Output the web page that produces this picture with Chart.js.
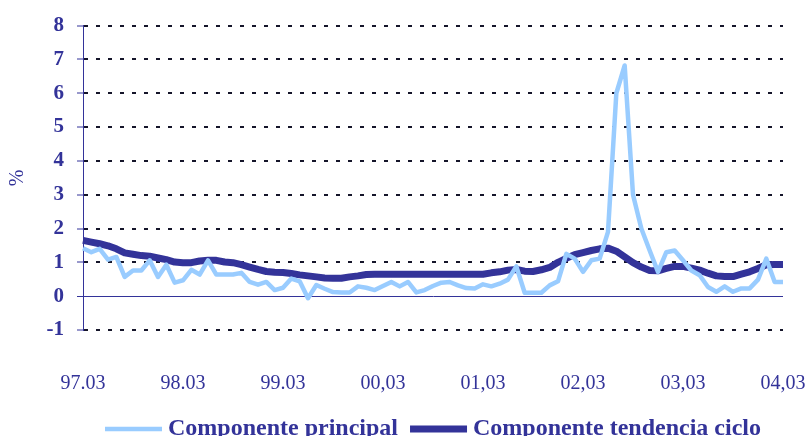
<!DOCTYPE html>
<html>
<head>
<meta charset="utf-8">
<script src="https://cdn.jsdelivr.net/npm/chart.js@4.4.1/dist/chart.umd.min.js"></script>
<style>
  html, body { margin: 0; padding: 0; background: #ffffff; overflow: hidden; }
  canvas { display: block; }
</style>
</head>
<body>
<canvas id="chart" width="809" height="436" style="width:809px;height:436px"></canvas>
<script>
// Monthly observations, March 1997 to March 2004
const months = [
  '97.03','97.04','97.05','97.06','97.07','97.08','97.09','97.10','97.11','97.12','98.01','98.02',
  '98.03','98.04','98.05','98.06','98.07','98.08','98.09','98.10','98.11','98.12','99.01','99.02',
  '99.03','99.04','99.05','99.06','99.07','99.08','99.09','99.10','99.11','99.12','00.01','00.02',
  '00.03','00.04','00.05','00.06','00.07','00.08','00.09','00.10','00.11','00.12','01.01','01.02',
  '01.03','01.04','01.05','01.06','01.07','01.08','01.09','01.10','01.11','01.12','02.01','02.02',
  '02.03','02.04','02.05','02.06','02.07','02.08','02.09','02.10','02.11','02.12','03.01','03.02',
  '03.03','03.04','03.05','03.06','03.07','03.08','03.09','03.10','03.11','03.12','04.01','04.02',
  '04.03'
];

// Axis labels shown once a year (every 12th month)
const tickLabels = ['97.03', '98.03', '99.03', '00,03', '01,03', '02,03', '03,03', '04,03'];

// Componente principal (%)
const principal = [
  1.42, 1.30, 1.40, 1.08, 1.16, 0.57, 0.76, 0.76, 1.06, 0.57, 0.93, 0.40,
  0.47, 0.78, 0.64, 1.06, 0.64, 0.64, 0.64, 0.69, 0.42, 0.34, 0.42, 0.18,
  0.25, 0.52, 0.44, -0.06, 0.33, 0.22, 0.12, 0.11, 0.11, 0.29, 0.25, 0.18,
  0.30, 0.42, 0.29, 0.42, 0.11, 0.18, 0.30, 0.40, 0.42, 0.32, 0.24, 0.23,
  0.35, 0.29, 0.37, 0.49, 0.88, 0.10, 0.10, 0.10, 0.32, 0.44, 1.25, 1.11,
  0.72, 1.06, 1.11, 1.90, 6.00, 6.82, 3.00, 2.00, 1.35, 0.72, 1.30, 1.35,
  1.06, 0.76, 0.62, 0.27, 0.13, 0.29, 0.13, 0.23, 0.23, 0.49, 1.11, 0.42,
  0.42
];

// Componente tendencia ciclo (%)
const tendencia = [
  1.65, 1.60, 1.55, 1.49, 1.40, 1.28, 1.24, 1.20, 1.18, 1.13, 1.08, 1.01,
  0.99, 0.99, 1.04, 1.06, 1.06, 1.01, 0.99, 0.93, 0.86, 0.79, 0.73, 0.71,
  0.70, 0.67, 0.63, 0.60, 0.57, 0.54, 0.53, 0.53, 0.57, 0.60, 0.64, 0.65,
  0.65, 0.65, 0.65, 0.65, 0.65, 0.65, 0.65, 0.65, 0.65, 0.65, 0.65, 0.65,
  0.65, 0.69, 0.72, 0.77, 0.79, 0.74, 0.73, 0.78, 0.85, 1.00, 1.12, 1.23,
  1.29, 1.35, 1.40, 1.42, 1.33, 1.16, 0.99, 0.86, 0.76, 0.75, 0.82, 0.88,
  0.88, 0.83, 0.77, 0.68, 0.60, 0.58, 0.58, 0.65, 0.72, 0.82, 0.93, 0.94,
  0.94
];

const NAVY = '#333399';
const LIGHT = '#99ccff';
const SERIF = "'Liberation Serif', 'Times New Roman', serif";
const CLEAR = 'rgba(0,0,0,0)';

const isZero = c => c.tick && c.tick.value === 0;

// Single-row legend centred under the plot area, line samples before each label
const bottomLegend = {
  id: 'bottomLegend',
  afterDraw(chart) {
    const { ctx, chartArea } = chart;
    const sets = chart.data.datasets;
    const sampleW = 57, gapText = 6, gapItem = 12;
    const lineY = 429, textY = 435;
    ctx.save();
    ctx.font = 'bold 24px ' + SERIF;
    ctx.textBaseline = 'alphabetic';
    ctx.textAlign = 'left';
    const widths = sets.map(d => ctx.measureText(d.label).width);
    const total = widths.reduce((a, w) => a + w + sampleW + gapText, 0) + gapItem * (sets.length - 1);
    let x = (chartArea.left + chartArea.right) / 2 - total / 2;
    sets.forEach((d, i) => {
      ctx.strokeStyle = d.borderColor;
      ctx.lineWidth = d.borderWidth;
      ctx.lineCap = 'butt';
      ctx.beginPath();
      ctx.moveTo(x, lineY);
      ctx.lineTo(x + sampleW, lineY);
      ctx.stroke();
      x += sampleW + gapText;
      ctx.fillStyle = NAVY;
      ctx.fillText(d.label, x, textY);
      x += widths[i] + gapItem;
    });
    ctx.restore();
  }
};

new Chart(document.getElementById('chart'), {
  type: 'line',
  data: {
    labels: months,
    datasets: [
      {
        label: 'Componente principal',
        data: principal,
        borderColor: LIGHT,
        backgroundColor: LIGHT,
        borderWidth: 4.5,
        pointRadius: 0,
        tension: 0,
        borderJoinStyle: 'round'
      },
      {
        label: 'Componente tendencia ciclo',
        data: tendencia,
        borderColor: NAVY,
        backgroundColor: NAVY,
        borderWidth: 7,
        pointRadius: 0,
        tension: 0,
        borderJoinStyle: 'round'
      }
    ]
  },
  plugins: [bottomLegend],
  options: {
    responsive: false,
    animation: false,
    devicePixelRatio: 1,
    layout: { padding: { top: 25, right: 26, left: 0, bottom: 32 } },
    plugins: {
      tooltip: { enabled: false },
      legend: { display: false }
    },
    scales: {
      x: {
        type: 'category',
        // invisible tick marks keep the year labels well below the plot
        grid: {
          display: true,
          drawOnChartArea: false,
          drawTicks: true,
          tickLength: 40,
          color: CLEAR,
          tickColor: CLEAR
        },
        border: { display: false },
        ticks: {
          autoSkip: false,
          maxRotation: 0,
          minRotation: 0,
          padding: 2,
          color: NAVY,
          font: { family: SERIF, size: 20 },
          callback: (v, i) => (i % 12 === 0 ? tickLabels[i / 12] : null)
        },
        afterFit: s => { s.height = 74; }
      },
      y: {
        min: -1,
        max: 8,
        ticks: {
          stepSize: 1,
          padding: 13,
          color: NAVY,
          font: { family: SERIF, size: 21, weight: 'bold' }
        },
        grid: {
          color: c => (isZero(c) ? NAVY : '#15152a'),
          lineWidth: c => (isZero(c) ? 1 : 2),
          tickColor: NAVY,
          tickWidth: 1,
          tickLength: 6,
          drawTicks: true
        },
        border: {
          display: true,
          color: NAVY,
          width: 1,
          dash: c => (c.tick && c.tick.value !== 0 ? [4, 8] : [])
        },
        title: {
          display: true,
          text: '%',
          color: NAVY,
          font: { family: SERIF, size: 20 },
          padding: { top: 6, bottom: 0 }
        },
        afterFit: s => { s.width = 83; }
      }
    }
  }
});
</script>
</body>
</html>
